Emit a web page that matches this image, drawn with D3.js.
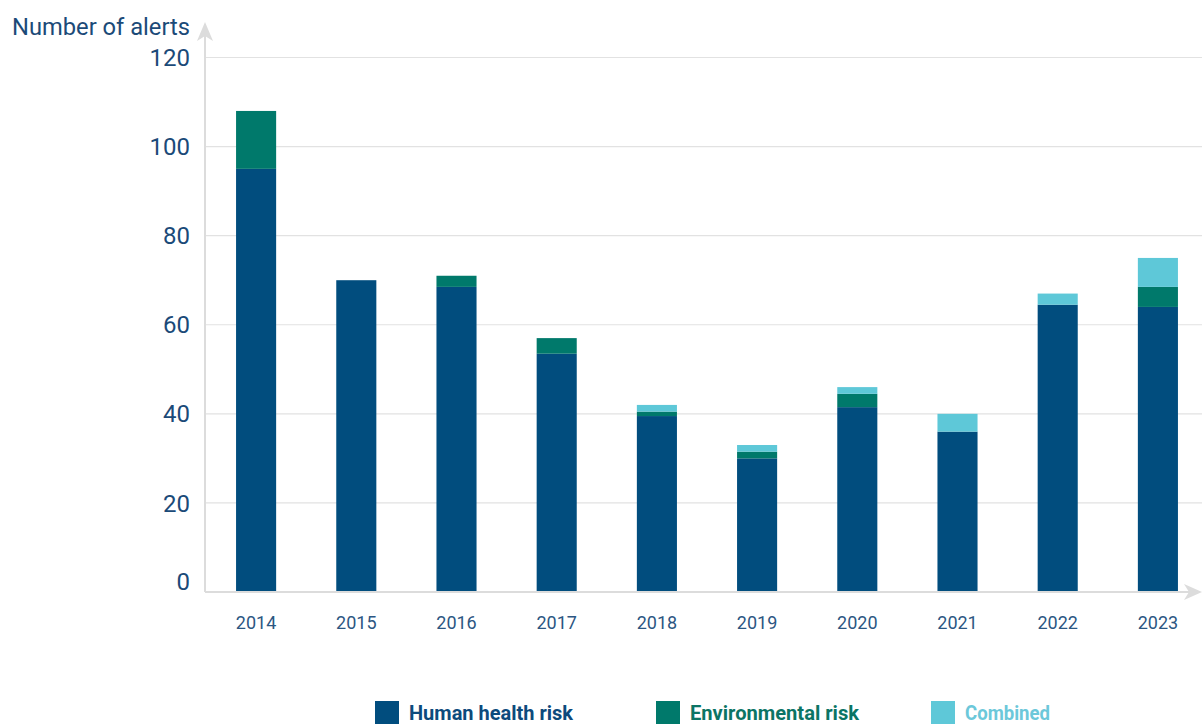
<!DOCTYPE html>
<html>
<head>
<meta charset="utf-8">
<script src="https://cdn.jsdelivr.net/npm/d3@7"></script>
<style>
  html, body { margin: 0; padding: 0; background: #fff; }
  svg { display: block; }
  text { font-family: Roboto, "Noto Sans", sans-serif; }
</style>
</head>
<body>
<svg id="chart" width="1202" height="724"></svg>
<script>
// Alerts per year, split by risk type
const years = ["2014", "2015", "2016", "2017", "2018", "2019", "2020", "2021", "2022", "2023"];
const humanHealth = [95, 70, 68.5, 53.5, 39.5, 30, 41.5, 36, 64.5, 64];
const environmental = [13, 0, 2.5, 3.5, 1, 1.5, 3, 0, 0, 4.5];
const combined = [0, 0, 0, 0, 1.5, 1.5, 1.5, 4, 2.5, 6.5];
const yTicks = [0, 20, 40, 60, 80, 100, 120];

const seriesNames = ["Human health risk", "Environmental risk", "Combined"];
const seriesColors = ["#014d7e", "#00796b", "#5ec8d8"];
const legendTextColors = ["#0d4a7c", "#0b7465", "#6cc8da"];

const svg = d3.select("#chart");
const x0 = 206, x1 = 1208, yBottom = 592, yTop = 57.5;

const x = d3.scaleBand().domain(years).range([x0, x1]).paddingInner(0.6).paddingOuter(0.3);
const y = d3.scaleLinear().domain([0, 120]).range([yBottom, yTop]);

// Horizontal gridlines
svg.append("g")
  .selectAll("line")
  .data(yTicks.filter(d => d > 0))
  .join("line")
  .attr("x1", 205).attr("x2", 1202)
  .attr("y1", d => y(d)).attr("y2", d => y(d))
  .attr("stroke", "#e2e2e2").attr("stroke-width", 1.2);

// Y tick labels
svg.append("g")
  .selectAll("text")
  .data(yTicks)
  .join("text")
  .attr("x", 190)
  .attr("y", d => y(d) + (d === 0 ? -11 : 0))
  .attr("dy", "0.36em")
  .attr("text-anchor", "end")
  .attr("font-size", 24)
  .attr("fill", "#1b4a78")
  .text(d => d);

// Stacked bars
const table = years.map((yr, i) => ({
  year: yr,
  human: humanHealth[i],
  env: environmental[i],
  comb: combined[i]
}));
const stack = d3.stack().keys(["human", "env", "comb"]);
const layers = stack(table);

svg.append("g")
  .selectAll("g")
  .data(layers)
  .join("g")
  .attr("fill", (d, i) => seriesColors[i])
  .selectAll("rect")
  .data(d => d.filter(s => s[1] - s[0] > 0))
  .join("rect")
  .attr("x", d => x(d.data.year))
  .attr("width", x.bandwidth())
  .attr("y", d => y(d[1]))
  .attr("height", d => y(d[0]) - y(d[1]));

// Axis lines with arrowheads
const axisColor = "#dcdcdc";
svg.append("line")
  .attr("x1", 205).attr("x2", 205)
  .attr("y1", yBottom).attr("y2", 30)
  .attr("stroke", axisColor).attr("stroke-width", 2);
svg.append("path")
  .attr("d", "M197,41 L205,22 L213,41 L205,36 Z")
  .attr("fill", axisColor);
svg.append("line")
  .attr("x1", 205).attr("x2", 1192)
  .attr("y1", yBottom).attr("y2", yBottom)
  .attr("stroke", axisColor).attr("stroke-width", 2);
svg.append("path")
  .attr("d", "M1184,584 L1202,592 L1184,600 L1189,592 Z")
  .attr("fill", axisColor);

// X tick labels
const xAxis = d3.axisBottom(x).tickSize(0).tickPadding(0);
const gx = svg.append("g")
  .attr("transform", `translate(0,${yBottom + 24})`)
  .call(xAxis);
gx.select(".domain").remove();
gx.selectAll("text")
  .attr("font-size", 18)
  .attr("fill", "#2c5682")
  .attr("font-family", "Roboto, sans-serif");

// Axis title
svg.append("text")
  .attr("x", 12).attr("y", 35)
  .attr("font-size", 24)
  .attr("fill", "#1b4a78")
  .attr("textLength", 178)
  .attr("lengthAdjust", "spacingAndGlyphs")
  .text("Number of alerts");

// Legend
const legendX = [375, 656, 931];
const legendW = [164, 169, 85];
const legend = svg.append("g");
seriesNames.forEach((name, i) => {
  legend.append("rect")
    .attr("x", legendX[i]).attr("y", 701)
    .attr("width", 24).attr("height", 24)
    .attr("fill", seriesColors[i]);
  legend.append("text")
    .attr("x", legendX[i] + 34).attr("y", 720)
    .attr("font-size", 21)
    .attr("font-weight", "bold")
    .attr("fill", legendTextColors[i])
    .attr("textLength", legendW[i])
    .attr("lengthAdjust", "spacingAndGlyphs")
    .text(name);
});
</script>
</body>
</html>
